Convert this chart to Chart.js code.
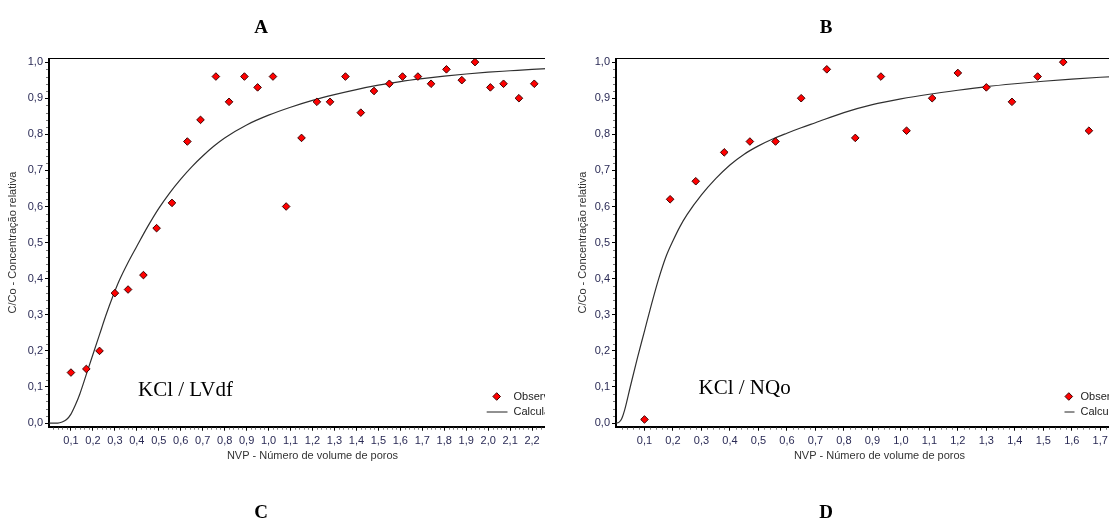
<!DOCTYPE html>
<html>
<head>
<meta charset="utf-8">
<script src="https://cdn.jsdelivr.net/npm/chart.js@4.4.1/dist/chart.umd.min.js"></script>
<style>
  body { margin: 0; width: 1109px; height: 525px; background: #fff; position: relative; overflow: hidden; }
  .panel { position: absolute; top: 0; height: 470px; overflow: hidden; }
  .panel canvas { position: absolute; left: 0; top: 0; }
  .letter { position: absolute; font: bold 19px "Liberation Serif", "Times New Roman", serif; color: #000; transform: translate(-50%, -50%); }
</style>
</head>
<body>
<div class="panel" style="left:0;width:545px"><canvas id="chartA" width="600" height="470"></canvas></div>
<div class="panel" style="left:567px;width:542px"><canvas id="chartB" width="600" height="470"></canvas></div>
<div class="letter" style="left:261px;top:27px">A</div>
<div class="letter" style="left:826px;top:27px">B</div>
<div class="letter" style="left:261px;top:512px">C</div>
<div class="letter" style="left:826px;top:512px">D</div>

<script>
// Panel A - KCl / LVdf
const obsAx = [0.10, 0.17, 0.23, 0.30, 0.36, 0.43, 0.49, 0.56, 0.63, 0.69, 0.76, 0.82, 0.89, 0.95, 1.02, 1.08, 1.15,
               1.22, 1.28, 1.35, 1.42, 1.48, 1.55, 1.61, 1.68, 1.74, 1.81, 1.88, 1.94, 2.01, 2.07, 2.14, 2.21];
const obsAy = [0.14, 0.15, 0.20, 0.36, 0.37, 0.41, 0.54, 0.61, 0.78, 0.84, 0.96, 0.89, 0.96, 0.93, 0.96, 0.60, 0.79,
               0.89, 0.89, 0.96, 0.86, 0.92, 0.94, 0.96, 0.96, 0.94, 0.98, 0.95, 1.00, 0.93, 0.94, 0.90, 0.94];
const calcAx = [0, 0.04, 0.06, 0.08, 0.10, 0.12, 0.14, 0.17, 0.20, 0.23, 0.26, 0.29, 0.32, 0.36, 0.40, 0.45, 0.50, 0.55,
                0.60, 0.65, 0.70, 0.75, 0.80, 0.90, 1.00, 1.10, 1.20, 1.30, 1.40, 1.50, 1.60, 1.70, 1.80, 1.90, 2.00,
                2.10, 2.20, 2.30, 2.40];
const calcAy = [0, 0, 0.003, 0.01, 0.025, 0.05, 0.08, 0.135, 0.19, 0.245, 0.30, 0.35, 0.395, 0.445, 0.49, 0.545, 0.595, 0.638,
                0.676, 0.71, 0.74, 0.767, 0.79, 0.826, 0.853, 0.875, 0.894, 0.91, 0.924, 0.936, 0.946, 0.954, 0.961, 0.967,
                0.972, 0.976, 0.98, 0.983, 0.986];
const xTicksA = [0.1, 0.2, 0.3, 0.4, 0.5, 0.6, 0.7, 0.8, 0.9, 1.0, 1.1, 1.2, 1.3, 1.4, 1.5, 1.6, 1.7, 1.8, 1.9, 2.0,
                 2.1, 2.2, 2.3, 2.4];

// Panel B - KCl / NQo
const obsBx = [0.10, 0.19, 0.28, 0.38, 0.47, 0.56, 0.65, 0.74, 0.84, 0.93, 1.02, 1.11, 1.20, 1.30, 1.39, 1.48, 1.57, 1.66];
const obsBy = [0.01, 0.62, 0.67, 0.75, 0.78, 0.78, 0.90, 0.98, 0.79, 0.96, 0.81, 0.90, 0.97, 0.93, 0.89, 0.96, 1.00, 0.81];
const calcBx = [0, 0.01, 0.02, 0.03, 0.05, 0.075, 0.10, 0.125, 0.15, 0.175, 0.20, 0.225, 0.25, 0.30, 0.35, 0.40, 0.45,
                0.50, 0.55, 0.60, 0.65, 0.70, 0.80, 0.90, 1.00, 1.10, 1.20, 1.30, 1.40, 1.50, 1.60, 1.70, 1.80, 1.85];
const calcBy = [0, 0.002, 0.012, 0.035, 0.10, 0.18, 0.255, 0.33, 0.40, 0.46, 0.505, 0.545, 0.578, 0.632, 0.677, 0.715,
                0.745, 0.768, 0.787, 0.803, 0.818, 0.832, 0.86, 0.882, 0.898, 0.911, 0.922, 0.932, 0.94, 0.947, 0.953,
                0.958, 0.962, 0.964];
const xTicksB = [0.1, 0.2, 0.3, 0.4, 0.5, 0.6, 0.7, 0.8, 0.9, 1.0, 1.1, 1.2, 1.3, 1.4, 1.5, 1.6, 1.7, 1.8];

const yTicks = [0, 0.1, 0.2, 0.3, 0.4, 0.5, 0.6, 0.7, 0.8, 0.9, 1.0];

const labelColor = '#2a2a55';
const titleColor = '#333333';
const sansFont = "'Liberation Sans', Arial, sans-serif";

function fmt(v) {
    return v.toFixed(1).replace('.', ',');
}

// frame line, minor ticks, label text and the small legend
const panelDecor = {
    id: 'panelDecor',
    afterDraw(chart, args, opts) {
        const ctx = chart.ctx;
        const area = chart.chartArea;
        const xs = chart.scales.x;
        const ys = chart.scales.y;
        ctx.save();

        // top frame
        ctx.strokeStyle = '#000';
        ctx.lineWidth = 1;
        ctx.beginPath();
        ctx.moveTo(area.left, area.top);
        ctx.lineTo(area.right + 40, area.top);
        ctx.stroke();

        // minor ticks every 0.02
        ctx.strokeStyle = '#777';
        ctx.beginPath();
        for (let i = 1; i < 50; i++) {
            if (i % 5 === 0) continue;
            const py = Math.round(ys.getPixelForValue(i * 0.02)) + 0.5;
            ctx.moveTo(area.left - 3, py);
            ctx.lineTo(area.left - 1, py);
        }
        for (let i = 1; i * 0.02 < xs.max; i++) {
            if (i % 5 === 0) continue;
            const px = Math.round(xs.getPixelForValue(i * 0.02)) + 0.5;
            ctx.moveTo(px, area.bottom + 1);
            ctx.lineTo(px, area.bottom + 3);
        }
        ctx.stroke();

        // soil label
        ctx.fillStyle = '#000';
        ctx.font = "21px 'Liberation Serif', 'Times New Roman', serif";
        ctx.textBaseline = 'middle';
        ctx.textAlign = 'left';
        ctx.fillText(opts.label, area.left + opts.labelX, area.top + opts.labelY);

        // legend
        const lx = area.left + opts.legendX;
        const ly = area.top + 338;
        ctx.fillStyle = '#ff0000';
        ctx.strokeStyle = '#3c0000';
        ctx.lineWidth = 1;
        ctx.beginPath();
        ctx.moveTo(lx, ly - 3.8);
        ctx.lineTo(lx + 3.8, ly);
        ctx.lineTo(lx, ly + 3.8);
        ctx.lineTo(lx - 3.8, ly);
        ctx.closePath();
        ctx.fill();
        ctx.stroke();

        ctx.strokeStyle = '#222';
        ctx.beginPath();
        ctx.moveTo(area.left + opts.lineFrom, ly + 15.5);
        ctx.lineTo(area.left + 458.5, ly + 15.5);
        ctx.stroke();

        ctx.fillStyle = '#222';
        ctx.font = '11px ' + sansFont;
        ctx.fillText('Observado', area.left + 464.5, ly);
        ctx.fillText('Calculado', area.left + 464.5, ly + 15.5);
        ctx.restore();
    }
};

function makeChart(id, cfg) {
    return new Chart(document.getElementById(id), {
        data: {
            datasets: [
                {
                    type: 'scatter',
                    label: 'Observado',
                    data: cfg.obsX.map((x, i) => ({ x: x, y: cfg.obsY[i] })),
                    pointStyle: 'rectRot',
                    pointRadius: 3.8,
                    pointHoverRadius: 3.8,
                    backgroundColor: '#ff0000',
                    borderColor: '#3c0000',
                    borderWidth: 1
                },
                {
                    type: 'line',
                    label: 'Calculado',
                    data: cfg.calcX.map((x, i) => ({ x: x, y: cfg.calcY[i] })),
                    borderColor: '#303030',
                    borderWidth: 1.2,
                    pointRadius: 0,
                    cubicInterpolationMode: 'monotone',
                    fill: false
                }
            ]
        },
        options: {
            responsive: false,
            animation: false,
            events: [],
            layout: { padding: { top: 58.5, left: 0, right: 24, bottom: 0 } },
            plugins: {
                legend: { display: false },
                tooltip: { enabled: false },
                panelDecor: cfg.decor
            },
            scales: {
                x: {
                    type: 'linear',
                    min: 0,
                    max: cfg.xMax,
                    afterBuildTicks: s => { s.ticks = cfg.xTicks.map(v => ({ value: v })); },
                    afterFit: s => { s.height = 43.3; },
                    grid: { drawOnChartArea: false, tickLength: 4, tickColor: '#000', tickWidth: 1 },
                    border: { color: '#000', width: 2 },
                    ticks: {
                        padding: 4, color: labelColor, maxRotation: 0, autoSkip: false,
                        font: { size: 11, family: sansFont },
                        callback: v => fmt(v)
                    },
                    title: {
                        display: true, text: 'NVP - Número de volume de poros', color: titleColor,
                        font: { size: 11, family: sansFont }, padding: { top: 0, bottom: 7.4 }
                    }
                },
                y: {
                    type: 'linear',
                    min: -0.01,
                    max: 1.01,
                    afterBuildTicks: s => { s.ticks = yTicks.map(v => ({ value: v })); },
                    afterFit: s => { s.width = 49; },
                    grid: { drawOnChartArea: false, tickLength: 4, tickColor: '#000', tickWidth: 1 },
                    border: { color: '#000', width: 2 },
                    ticks: {
                        padding: 2, color: labelColor,
                        font: { size: 11, family: sansFont },
                        callback: v => fmt(v)
                    },
                    title: {
                        display: true, text: 'C/Co - Concentração relativa', color: titleColor,
                        font: { size: 11, family: sansFont }, padding: { top: cfg.yTitlePad, bottom: 0 }
                    }
                }
            }
        },
        plugins: [panelDecor]
    });
}

makeChart('chartA', {
    obsX: obsAx, obsY: obsAy, calcX: calcAx, calcY: calcAy,
    xTicks: xTicksA, xMax: 2.40, yTitlePad: 6.4,
    decor: { label: 'KCl / LVdf', labelX: 89, labelY: 331.5, legendX: 447.7, lineFrom: 437.7 }
});

makeChart('chartB', {
    obsX: obsBx, obsY: obsBy, calcX: calcBx, calcY: calcBy,
    xTicks: xTicksB, xMax: 1.85, yTitlePad: 9,
    decor: { label: 'KCl / NQo', labelX: 82.5, labelY: 329.5, legendX: 452.8, lineFrom: 448.5 }
});
</script>
</body>
</html>
